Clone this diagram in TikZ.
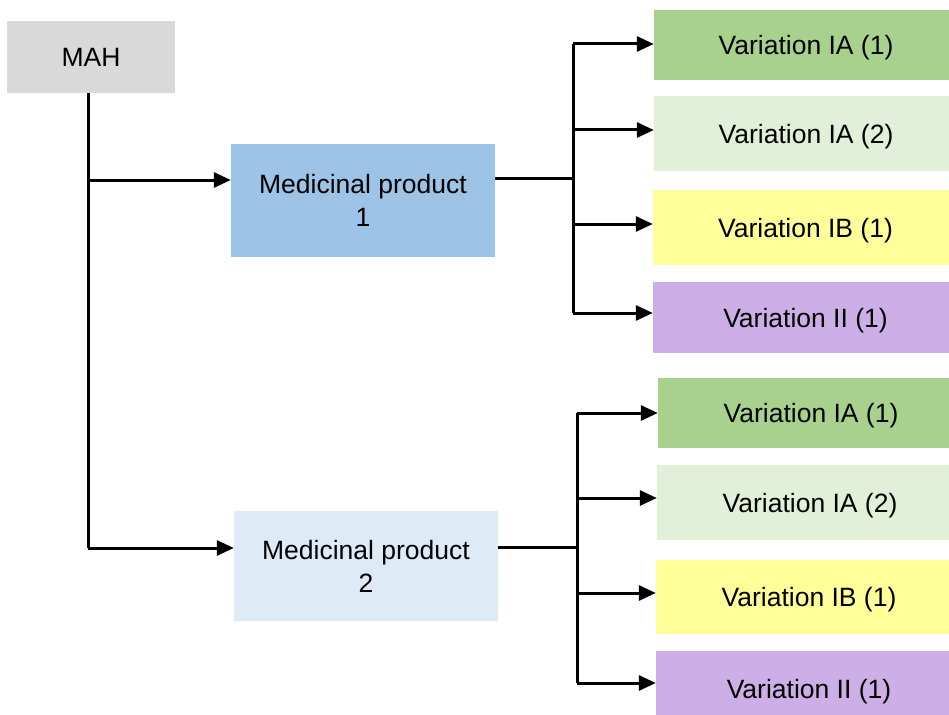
\documentclass[tikz,border=0pt]{standalone}
\usepackage{fontspec}
\setmainfont{Liberation Sans}
\usetikzlibrary{arrows.meta}
\definecolor{cmah}{HTML}{D9D9D9}
\definecolor{cmpa}{HTML}{9DC3E6}
\definecolor{cmpb}{HTML}{DEEBF7}
\definecolor{cia}{HTML}{A9D18E}
\definecolor{ciab}{HTML}{E2F0D9}
\definecolor{cib}{HTML}{FFFF99}
\definecolor{cii}{HTML}{CDAEE6}
\begin{document}
\begin{tikzpicture}[x=1pt,y=-1pt,
  box/.style={draw=none,inner sep=0pt,align=center,text depth=0pt,
    font=\fontsize{26.5}{33}\selectfont},
  ln/.style={line width=3pt,black},
  arr/.style={ln,-{Triangle[length=17pt,width=15pt]}}]
\useasboundingbox (0,0) rectangle (949,714);
\clip (0,0) rectangle (949,714);
\node[box,fill=cmah,minimum width=168pt,minimum height=72pt] (mah) at (91,57) {MAH};
\node[box,fill=cmpa,minimum width=264pt,minimum height=113pt] (mpa) at (363,200.5) {Medicinal product\\1};
\node[box,fill=cmpb,minimum width=264pt,minimum height=110pt] (mpb) at (366,566) {Medicinal product\\2};
% top group
\node[box,fill=cia,minimum width=304pt,minimum height=70pt] (a1) at (806,45) {Variation IA (1)};
\node[box,fill=ciab,minimum width=304pt,minimum height=75pt] (a2) at (806,133.5) {Variation IA (2)};
\node[box,fill=cib,minimum width=305pt,minimum height=75pt] (a3) at (805.5,227.5) {Variation IB (1)};
\node[box,fill=cii,minimum width=305pt,minimum height=71pt] (a4) at (805.5,317.5) {Variation II (1)};
% bottom group
\node[box,fill=cia,minimum width=306pt,minimum height=70pt] (b1) at (811,413) {Variation IA (1)};
\node[box,fill=ciab,minimum width=306pt,minimum height=75pt] (b2) at (810,502.5) {Variation IA (2)};
\node[box,fill=cib,minimum width=306pt,minimum height=74pt] (b3) at (809,597) {Variation IB (1)};
\node[box,fill=cii,minimum width=306pt,minimum height=76pt] (b4) at (809,689) {Variation II (1)};
% MAH trunk
\coordinate (t1) at (88,180);
\coordinate (t2) at (88,548);
\draw[ln] (mah.south -| t1) -- (t2);
\draw[arr] (t1) -- (t1 -| mpa.west);
\draw[arr] (t2) -- (t2 -| mpb.west);
% group 1
\coordinate (j1) at (573,178);
\coordinate (p1) at (573,44);
\coordinate (p2) at (573,130);
\coordinate (p3) at (573,224);
\coordinate (p4) at (573,313);
\draw[ln] (j1 -| mpa.east) -- (j1);
\draw[ln] (p1) -- (p4);
\draw[arr] (p1) -- (p1 -| a1.west);
\draw[arr] (p2) -- (p2 -| a2.west);
\draw[arr] (p3) -- (p3 -| a3.west);
\draw[arr] (p4) -- (p4 -| a4.west);
% group 2
\coordinate (j2) at (577,547);
\coordinate (q1) at (577,413);
\coordinate (q2) at (577,498);
\coordinate (q3) at (577,593);
\coordinate (q4) at (577,683);
\draw[ln] (j2 -| mpb.east) -- (j2);
\draw[ln] (q1) -- (q4);
\draw[arr] (q1) -- (q1 -| b1.west);
\draw[arr] (q2) -- (q2 -| b2.west);
\draw[arr] (q3) -- (q3 -| b3.west);
\draw[arr] (q4) -- (q4 -| b4.west);
\end{tikzpicture}
\end{document}
